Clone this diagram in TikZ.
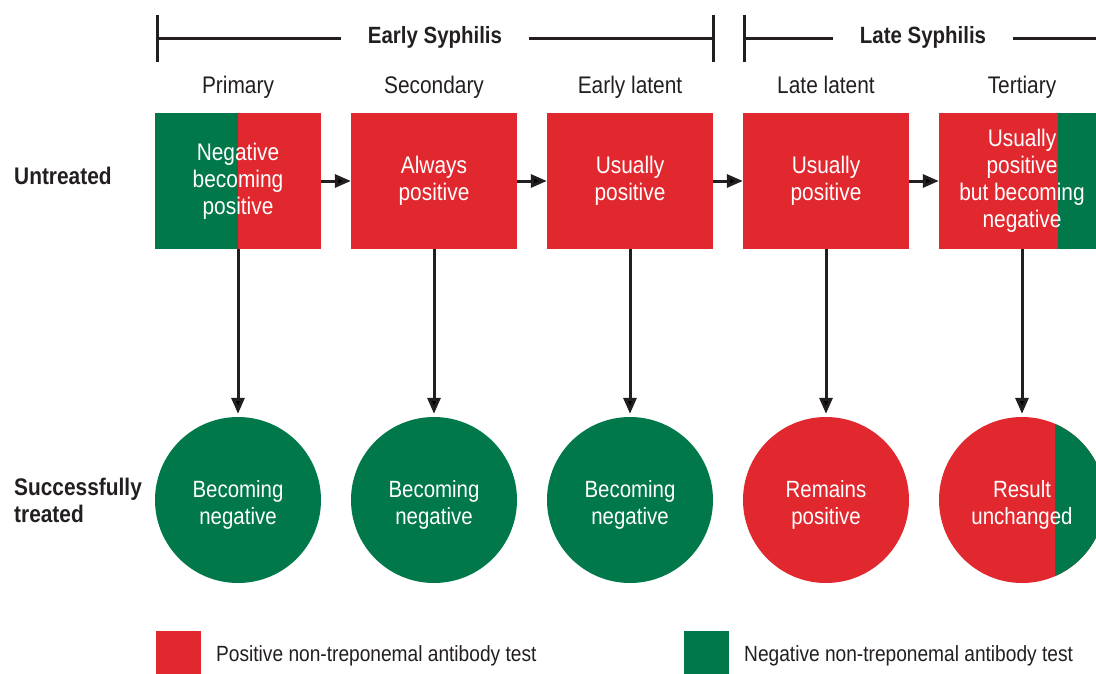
\documentclass[tikz,border=0pt]{standalone}
\usepackage{fontspec}
\setmainfont{Liberation Sans}[FakeStretch=0.87]
\usetikzlibrary{arrows.meta, positioning}

\definecolor{posred}{HTML}{E1282F}
\definecolor{neggreen}{HTML}{00784A}
\definecolor{inkdark}{HTML}{231F20}

% lowers the text in the circles a little
\newcommand{\lowtop}{\rule{0pt}{26pt}}

\begin{document}
\begin{tikzpicture} [x=1pt, y=-1pt,
            node distance = 319pt and 196pt,
            on grid,
            box/.style = {rectangle, fill=posred, minimum width=166pt,
                minimum height=136pt, inner sep=0pt, text=white,
                align=center, font=\fontsize{24}{27}\selectfont},
            result/.style = {circle, fill=posred, minimum size=166pt,
                inner sep=0pt, text=white, align=center,
                font=\fontsize{23.5}{27}\selectfont},
            negative/.style = {fill=neggreen},
            greenleft/.style = {path picture={\fill[neggreen]
                (path picture bounding box.south west) rectangle
                (path picture bounding box.north);}},
            greenright/.style = {path picture={\fill[neggreen]
                ([xshift=#1]path picture bounding box.north) rectangle
                (path picture bounding box.south east);}},
            stage/.style = {anchor=base, text=inkdark, inner sep=0pt,
                font=\fontsize{24}{27}\selectfont},
            rowlabel/.style = {anchor=west, text=inkdark, align=left,
                inner sep=0pt, font=\bfseries\fontsize{24}{27}\selectfont},
            period/.style = {text=inkdark, inner xsep=27pt,
                font=\bfseries\fontsize{23.5}{27}\selectfont},
            legend/.style = {anchor=base west, text=inkdark, inner sep=0pt,
                font=\fontsize{22}{26}\selectfont},
            swatch/.style = {rectangle, minimum size=45pt, inner sep=0pt,
                anchor=north west},
            bracket/.style = {draw=inkdark, line width=3pt},
            link/.style = {draw=inkdark, line width=3pt,
                -{Triangle[length=16pt, width=13pt]}}]

        \clip (0,0) rectangle (1096,673);

        % Untreated row
        \node (prim) [box, greenleft] at (238,181)
            {Negative\\becoming\\positive};
        \node (sec) [box, right = of prim] {Always\\positive};
        \node (early) [box, right = of sec] {Usually\\positive};
        \node (late) [box, right = of early] {Usually\\positive};
        \node (tert) [box, greenright=36pt, right = of late]
            {Usually\\positive\\but becoming\\negative};

        % Successfully treated row
        \node (primT) [result, negative, below = of prim]
            {\lowtop Becoming\\negative};
        \node (secT) [result, negative, below = of sec]
            {\lowtop Becoming\\negative};
        \node (earlyT) [result, negative, below = of early]
            {\lowtop Becoming\\negative};
        \node (lateT) [result, below = of late] {\lowtop Remains\\positive};
        \node (tertT) [result, greenright=33pt, below = of tert]
            {\lowtop Result\\unchanged};

        % Stage names
        \node (primS) [stage] at (238,93) {Primary};
        \node (secS) [stage] at (434,93) {Secondary};
        \node (earlyS) [stage] at (630,93) {Early latent};
        \node (lateS) [stage] at (826,93) {Late latent};
        \node (tertS) [stage] at (1022,93) {Tertiary};

        % Row names
        \node (untreated) [rowlabel] at (14,176) {Untreated};
        \node (treated) [rowlabel] at (14,500) {Successfully\\treated};

        % Periods
        \node (earlyP) [period] at (435,37) {Early Syphilis};
        \node (lateP) [period] at (923,37) {Late Syphilis};
        \coordinate (e1) at (157,38);
        \coordinate (e2) at (713,38);
        \coordinate (l1) at (744,38);
        \coordinate (l2) at (1110,38);

        \draw [bracket] ([yshift=-24pt]e1) -- ([yshift=23pt]e1);
        \draw [bracket] ([yshift=-24pt]e2) -- ([yshift=23pt]e2);
        \draw [bracket] ([yshift=-24pt]l1) -- ([yshift=23pt]l1);
        \draw [bracket] (e1) -- (e1 -| earlyP.west) (e2 -| earlyP.east) -- (e2);
        \draw [bracket] (l1) -- (l1 -| lateP.west) (l2 -| lateP.east) -- (l2);

        % Arrows
        \path [link]
            (prim) edge (sec)
            (sec) edge (early)
            (early) edge (late)
            (late) edge (tert)

            (prim) edge [shorten >=3pt] (primT)
            (sec) edge [shorten >=3pt] (secT)
            (early) edge [shorten >=3pt] (earlyT)
            (late) edge [shorten >=3pt] (lateT)
            (tert) edge [shorten >=3pt] (tertT)
            ;

        % Legend
        \node (posKey) [swatch, fill=posred] at (156,631) {};
        \node (posText) [legend] at (216,661)
            {Positive non-treponemal antibody test};
        \node (negKey) [swatch, fill=neggreen] at (684,631) {};
        \node (negText) [legend] at (744,661)
            {Negative non-treponemal antibody test};
\end{tikzpicture}
\end{document}
